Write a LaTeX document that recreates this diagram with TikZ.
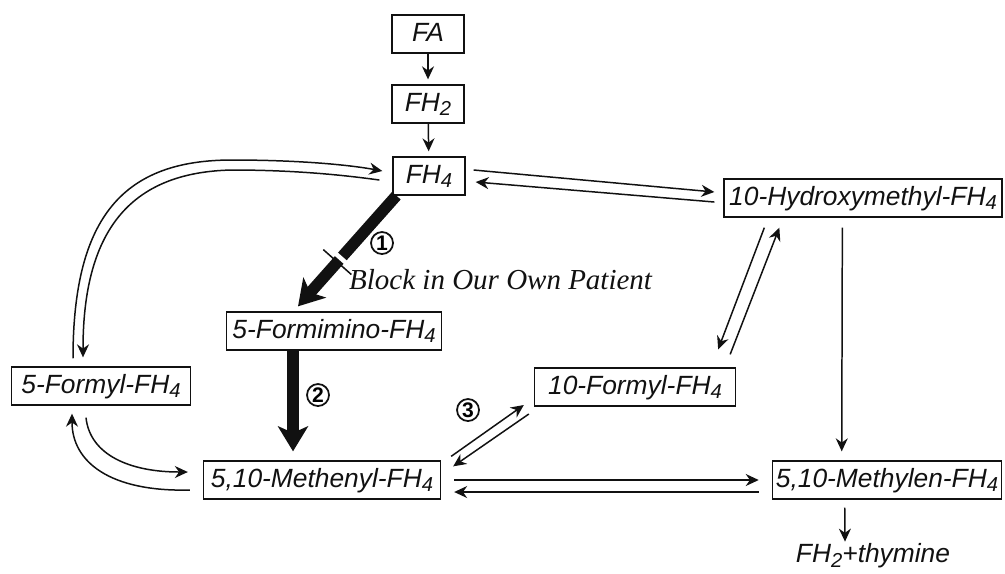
\documentclass[tikz,border=0pt]{standalone}
\usepackage{fontspec}
\setmainfont{Liberation Sans}
\newfontfamily\handfont{Liberation Serif}
\usetikzlibrary{arrows.meta,calc}
\definecolor{fInk}{HTML}{111111}
\newcommand{\low}[1]{\raisebox{-0.3ex}{\fontsize{11.5}{11.5}\selectfont #1}}
\tikzset{
  cpd/.style   ={draw=fInk,line width=0.75pt,inner xsep=2pt,inner ysep=0pt,
                 minimum height=7.6mm,text height=11pt,text depth=3pt,
                 font=\fontsize{15}{17}\selectfont\itshape,text=fInk},
  tiny/.style  ={cpd,minimum width=14.4mm},
  flow/.style  ={-{Stealth[length=2.6mm,width=2.4mm]},fInk,line width=0.85pt},
  heavy/.style ={-{Stealth[length=5mm,width=6mm,inset=1.3mm]},fInk,line width=2.3mm},
  numc/.style  ={circle,draw=fInk,line width=1pt,inner sep=0pt,minimum size=4.4mm,
                 font=\fontsize{12}{12}\selectfont\bfseries},
  lbl/.style   ={font=\fontsize{15}{17}\selectfont\itshape,text=fInk},
}
\begin{document}
\begin{tikzpicture}[x=0.2mm,y=-0.2mm]
\useasboundingbox (0,0) rectangle (1005,573);

% compounds
\node[tiny] (fa)  at (428,34)  {FA};
\node[tiny] (fh2) at (428,104) {FH\low{2}};
\node[tiny] (fh4) at (429,176) {FH\low{4}};
\node[cpd,minimum width=55.6mm] (hydroxy)   at (863,198) {10-Hydroxymethyl-FH\low{4}};
\node[cpd,minimum width=43mm]   (formimino) at (334,331) {5-Formimino-FH\low{4}};
\node[cpd,minimum width=35.8mm] (formyl)    at (101,386) {5-Formyl-FH\low{4}};
\node[cpd,minimum width=40.2mm] (tenformyl) at (635,387) {10-Formyl-FH\low{4}};
\node[cpd,minimum width=47.4mm] (methenyl)  at (322,480) {5,10-Methenyl-FH\low{4}};
\node[cpd,minimum width=45.8mm] (methylen)  at (887,480) {5,10-Methylen-FH\low{4}};
\node[lbl,inner sep=1pt] (thymine) at (873,556) {FH\low{2}+thymine};

% top chain
\draw[flow,shorten >=1mm] (fa) -- (fh2);
\draw[flow,shorten >=1mm] (fh2) -- (fh4);

% FH4 <-> 10-hydroxymethyl
\draw[flow] ($(fh4.east)+(8,-6)$) -- ($(hydroxy.west)+(-9,-6)$);
\draw[flow] ($(hydroxy.west)+(-9,4)$) -- ($(fh4.east)+(10,6)$);

% FH4 <-> 5-formyl, long loop
\draw[flow] ($(formyl.north)+(-28,-8)$) .. controls (73,215) and (125,160) .. (232,160)
  .. controls (300,160) and (350,165) .. ($(fh4.west)+(-10,-5)$);
\draw[flow] ($(fh4.west)+(-13,4)$) .. controls (350,176) and (300,170) .. (232,170)
  .. controls (135,172) and (83,225) .. ($(formyl.north)+(-18,-9)$);

% 5-formyl <-> methenyl
\draw[flow] ($(methenyl.west)+(-13,10)$) .. controls (110,492) and (72,462) .. ($(formyl.south)+(-29,8)$);
\draw[flow] ($(formyl.south)+(-15,12)$) .. controls (90,455) and (130,472) .. ($(methenyl.west)+(-15,-8)$);

% blocked step 1
\draw[heavy] ($(fh4.south west)+(4,0)$) --
  node[pos=0.6,sloped,fill=fInk,inner sep=0pt,minimum width=0.3mm,minimum height=7.5mm]{}
  node[pos=0.565,sloped,fill=white,inner sep=0pt,minimum width=0.9mm,minimum height=2.7mm]{}
  ($(formimino.north)+(-36,-5)$);
\node[numc] (n1) at (382,243) {1};
\node[lbl,font=\fontsize{16.5}{18}\selectfont\handfont\itshape,anchor=west] (block) at (343,280)
  {Block in Our Own Patient};

% step 2
\draw[heavy] ($(formimino.south)+(-41,0)$) -- ($(methenyl.north)+(-29,-9)$);
\node[numc] (n2) at (318,395) {2};

% step 3
\draw[flow] ($(methenyl.north east)+(10,-4)$) -- ($(tenformyl.west)+(-10,18)$);
\draw[flow] ($(tenformyl.west)+(-5,27)$) -- ($(methenyl.north east)+(12,6)$);
\node[numc] (n3) at (468,410) {3};

% 10-formyl <-> 10-hydroxymethyl
\draw[flow] ($(hydroxy.south west)+(41,10)$) -- ($(tenformyl.north east)+(-18,-18)$);
\draw[flow] ($(tenformyl.north east)+(-6,-13)$) -- ($(hydroxy.south west)+(56,10)$);

% to methylen and thymine
\draw[flow] ($(hydroxy.south west)+(119,10)$) -- ($(methylen.north west)+(70,-9)$);
\draw[flow] ($(methenyl.east)+(13,0)$) -- ($(methylen.west)+(-13,0)$);
\draw[flow] ($(methylen.west)+(-13,12)$) -- ($(methenyl.east)+(13,12)$);
\draw[flow] ($(methylen.south west)+(73,8)$) -- ($(thymine.north)+(-28,0)$);
\end{tikzpicture}
\end{document}
